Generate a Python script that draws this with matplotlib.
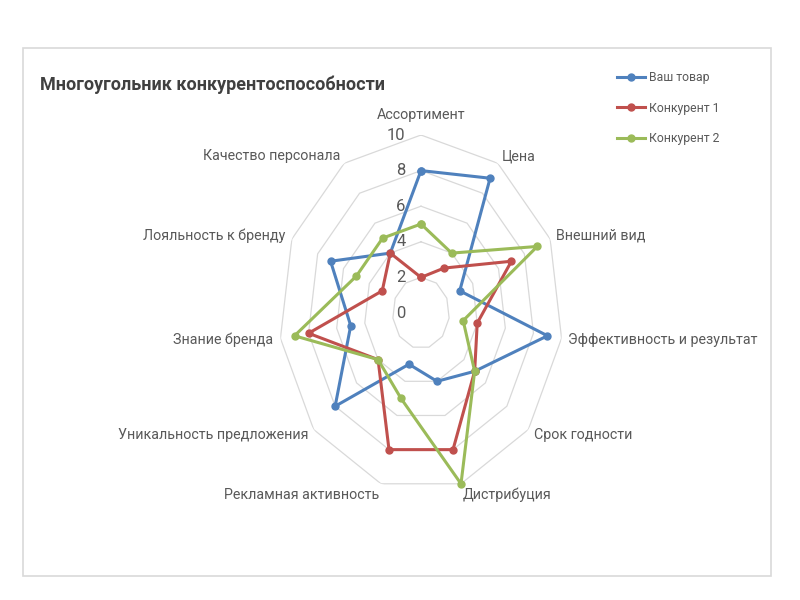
# -*- coding: utf-8 -*-
"""Многоугольник конкурентоспособности: радарная диаграмма трёх товаров."""

import numpy as np
import matplotlib

matplotlib.use("Agg")
import matplotlib.pyplot as plt
from matplotlib.patches import Rectangle


CATEGORIES = [
    "Ассортимент",
    "Цена",
    "Внешний вид",
    "Эффективность и результат",
    "Срок годности",
    "Дистрибуция",
    "Рекламная активность",
    "Уникальность предложения",
    "Знание бренда",
    "Лояльность к бренду",
    "Качество персонала",
]
OUR_PRODUCT = [8, 9, 3, 9, 5, 4, 3, 8, 5, 7, 4]
COMPETITOR_1 = [2, 3, 7, 4, 5, 8, 8, 4, 8, 3, 4]
COMPETITOR_2 = [5, 4, 9, 3, 5, 10, 5, 4, 9, 5, 5]
SERIES_NAMES = ["Ваш товар", "Конкурент 1", "Конкурент 2"]
RADIAL_TICKS = [0, 2, 4, 6, 8, 10]

COLORS = ["#4f81bd", "#c0504d", "#9bbb59"]
TEXT_COLOR = "#595959"
GRID_COLOR = "#d9d9d9"

plt.rcParams["font.family"] = ["Roboto", "DejaVu Sans"]

W, H = 800, 600
fig = plt.figure(figsize=(8, 6), dpi=100)

# рамка области диаграммы
fig.patches.append(
    Rectangle((23 / W, 1 - 576 / H), (771 - 23) / W, (576 - 48) / H,
              transform=fig.transFigure, fill=False,
              edgecolor=GRID_COLOR, linewidth=1.2)
)

fig.text(40 / W, 1 - 85 / H, "Многоугольник конкурентоспособности",
         fontsize=13, fontweight="bold", color="#404040", va="center")

# центр (421, 313), радиусы 142 x 178 px: исходная диаграмма растянута по вертикали
cx, cy, rx, ry = 421, 313, 142, 178
ax = fig.add_axes([(cx - rx) / W, 1 - (cy + ry) / H, 2 * rx / W, 2 * ry / H],
                  projection="polar")
ax.set_aspect("auto")
ax.set_theta_zero_location("N")
ax.set_theta_direction(-1)
ax.set_ylim(0, 10)
ax.grid(False)
ax.spines["polar"].set_visible(False)
ax.set_xticks([])
ax.set_yticks([])
ax.patch.set_alpha(0)

n = len(CATEGORIES)
angles = np.arange(n) * 2 * np.pi / n
closed = np.append(angles, angles[0])

for v in RADIAL_TICKS[1:]:
    ax.plot(closed, [v] * (n + 1), color=GRID_COLOR, linewidth=0.9, zorder=1)

for v in RADIAL_TICKS:
    ax.annotate(str(v), xy=(0, v), xytext=(-11, 0), textcoords="offset points",
                ha="right", va="center", fontsize=12, color=TEXT_COLOR)

for ang, name in zip(angles, CATEGORIES):
    s, c = np.sin(ang), np.cos(ang)
    if abs(s) < 0.1:
        ha, va, dy = "center", "bottom", 9
    else:
        ha = "left" if s > 0 else "right"
        va = "top" if c < -0.9 else "center"
        dy = c * 3 if va == "top" else c * 6
    ax.annotate(name, xy=(ang, 10), xytext=(s * 5, dy),
                textcoords="offset points", ha=ha, va=va,
                fontsize=10.3, color=TEXT_COLOR, annotation_clip=False)

handles = []
for values, name, color in zip([OUR_PRODUCT, COMPETITOR_1, COMPETITOR_2],
                               SERIES_NAMES, COLORS):
    line, = ax.plot(closed, values + values[:1], color=color, linewidth=2.2,
                    marker="o", markersize=5, label=name, zorder=3,
                    clip_on=False)
    handles.append(line)

fig.legend(handles=handles, loc="upper left",
           bbox_to_anchor=(606 / W, 1 - 60 / H), frameon=False,
           fontsize=8.8, handlelength=2.3, handletextpad=0.3,
           labelspacing=1.45, labelcolor=TEXT_COLOR)

fig.savefig("out.png", dpi=100, facecolor="white")
